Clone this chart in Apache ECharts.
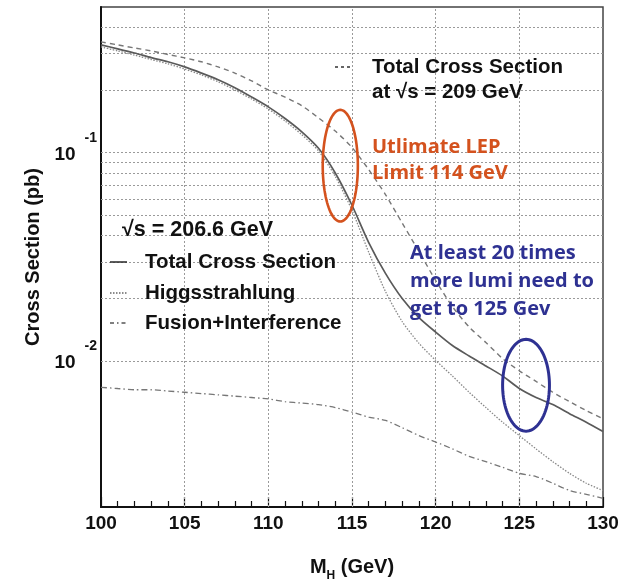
<!DOCTYPE html>
<html>
<head>
<meta charset="utf-8">
<script src="https://cdn.jsdelivr.net/npm/echarts@6/dist/echarts.min.js"></script>
<style>
  html, body { margin: 0; padding: 0; background: #fff; }
  #chart { width: 622px; height: 581px; }
</style>
</head>
<body>
<div id="chart"></div>
<script>
// Higgs mass in GeV
const massGeV = [100, 101, 102, 103, 104, 105, 106, 107, 108, 109, 110,
                 111, 112, 113, 114, 115, 116, 117, 118, 119, 120,
                 121, 122, 123, 124, 125, 126, 127, 128, 129, 130];

// Cross sections in pb at sqrt(s) = 206.6 GeV
const totalXsec = [0.329, 0.315, 0.301, 0.286, 0.273, 0.258, 0.241, 0.224, 0.205, 0.185, 0.166,
                   0.146, 0.126, 0.105, 0.080, 0.056, 0.0371, 0.0264, 0.0200, 0.0162, 0.0138,
                   0.0119, 0.0106, 0.0095, 0.0085, 0.0074, 0.0067, 0.0062, 0.0056, 0.0051, 0.0046];
const higgsstrahlung = [0.322, 0.308, 0.294, 0.280, 0.267, 0.252, 0.236, 0.219, 0.200, 0.181, 0.162,
                        0.142, 0.122, 0.102, 0.077, 0.053, 0.0333, 0.0216, 0.0155, 0.0122, 0.0101,
                        0.0085, 0.0071, 0.0060, 0.0051, 0.0044, 0.0038, 0.0033, 0.0029, 0.0026, 0.0024];
const fusionInterference = [0.0075, 0.0074, 0.0073, 0.0073, 0.0072, 0.0071, 0.0070, 0.0069, 0.0068, 0.0067, 0.0066,
                            0.0064, 0.0063, 0.0062, 0.0060, 0.0057, 0.0054, 0.0052, 0.0048, 0.0044, 0.0041,
                            0.0038, 0.0035, 0.0033, 0.0031, 0.0029, 0.0028, 0.0026, 0.0024, 0.0023, 0.0022];
// Total cross section at sqrt(s) = 209 GeV
const total209 = [0.340, 0.329, 0.318, 0.308, 0.296, 0.285, 0.273, 0.258, 0.241, 0.221, 0.200,
                  0.185, 0.168, 0.147, 0.127, 0.106, 0.083, 0.063, 0.046, 0.0336, 0.0244,
                  0.0183, 0.0146, 0.0123, 0.0103, 0.0090, 0.0080, 0.0071, 0.0064, 0.0058, 0.0053];

// Axis ranges and grid levels
const massRange = [100, 130];
const xsecRange = [0.002, 0.5];
const massGrid = [105, 110, 115, 120, 125];
const xsecGrid = [0.003, 0.004, 0.005, 0.006, 0.007, 0.008, 0.009,
                  0.01, 0.02, 0.03, 0.04, 0.05, 0.06, 0.07, 0.08, 0.09,
                  0.1, 0.2, 0.3, 0.4];

// Highlight rings: [mass min, mass max, xsec min, xsec max]
const lepLimitRing = [113.25, 115.35, 0.0468, 0.1605];
const target125Ring = [124.0, 126.8, 0.00462, 0.01274];

const pairs = (ys) => massGeV.map((m, i) => [m, ys[i]]);

const HELV = '"Liberation Sans", Arial, Helvetica, sans-serif';
const ANNOT = '"Open Sans", Lato, sans-serif';
const ORANGE = '#d4521e';
const BLUE = '#2e3192';

function ringSeries(name, box, color, width) {
  return {
    type: 'custom',
    name: name,
    silent: true,
    z: 10,
    data: [box],
    encode: { x: [0, 1], y: [2, 3] },
    renderItem: function (params, api) {
      const p1 = api.coord([api.value(0), api.value(3)]);
      const p2 = api.coord([api.value(1), api.value(2)]);
      const cx = (p1[0] + p2[0]) / 2, cy = (p1[1] + p2[1]) / 2;
      const rx = Math.abs(p2[0] - p1[0]) / 2, ry = Math.abs(p2[1] - p1[1]) / 2;
      const pts = [];
      for (let k = 0; k <= 96; k++) {
        const t = (k / 96) * Math.PI * 2;
        pts.push([cx + rx * Math.cos(t), cy + ry * Math.sin(t)]);
      }
      return {
        type: 'polyline',
        shape: { points: pts },
        style: { stroke: color, lineWidth: width, fill: null }
      };
    }
  };
}

function curve(name, ys, lineStyle, z) {
  return {
    name: name,
    type: 'line',
    data: pairs(ys),
    showSymbol: false,
    smooth: 0.25,
    z: z,
    lineStyle: lineStyle
  };
}

const gridStyle = { color: '#9a9a9a', width: 1, type: [2, 2] };
const textFont = 'bold 20.5px ' + HELV;

const chart = echarts.init(document.getElementById('chart'), null, { renderer: 'canvas' });

chart.setOption({
  animation: false,
  backgroundColor: '#fff',
  grid: {
    left: 101, top: 7, right: 19, bottom: 74,
    outerBoundsMode: 'none', containLabel: false,
    show: true, borderColor: '#444', borderWidth: 1.5
  },
  xAxis: {
    type: 'value',
    min: massRange[0],
    max: massRange[1],
    interval: 5,
    name: '{m|M}{h|H}{g| (GeV)}',
    nameLocation: 'middle',
    nameGap: 45,
    nameTextStyle: {
      rich: {
        m: { fontFamily: HELV, fontWeight: 'bold', fontSize: 20, color: '#111', lineHeight: 30 },
        h: { fontFamily: HELV, fontWeight: 'bold', fontSize: 12, color: '#111', lineHeight: 18, verticalAlign: 'bottom' },
        g: { fontFamily: HELV, fontWeight: 'bold', fontSize: 20, color: '#111', lineHeight: 30 }
      }
    },
    axisLine: { show: true, lineStyle: { color: '#111', width: 2 } },
    axisTick: { show: true, inside: true, length: 10, lineStyle: { color: '#111', width: 1.2 } },
    minorTick: { show: true, splitNumber: 5, length: 6, lineStyle: { color: '#111', width: 1.2 } },
    axisLabel: { margin: 7, fontFamily: HELV, fontWeight: 'bold', fontSize: 19, color: '#111' },
    splitLine: { show: false }
  },
  yAxis: {
    type: 'log',
    logBase: 10,
    min: xsecRange[0],
    max: xsecRange[1],
    name: 'Cross Section (pb)',
    nameLocation: 'middle',
    nameGap: 58,
    nameTextStyle: { fontFamily: HELV, fontWeight: 'bold', fontSize: 20, color: '#111' },
    axisLine: { show: true, lineStyle: { color: '#111', width: 2 } },
    axisTick: { show: false },
    splitLine: { show: false },
    axisLabel: {
      margin: 4,
      formatter: function (v) {
        const lg = Math.log10(v);
        const e = Math.round(lg);
        if (Math.abs(lg - e) > 1e-6) return '';
        return '{b|10}{s|' + e + '}';
      },
      rich: {
        b: { fontFamily: HELV, fontWeight: 'bold', fontSize: 19, color: '#111', lineHeight: 44, padding: [4, 0, 0, 0] },
        s: { fontFamily: HELV, fontWeight: 'bold', fontSize: 14, color: '#111', lineHeight: 16,
             verticalAlign: 'top', padding: [0, 0, 0, 9] }
      }
    }
  },
  series: [
    {
      name: 'grid',
      type: 'line',
      data: [],
      silent: true,
      z: 1,
      markLine: {
        silent: true,
        symbol: 'none',
        label: { show: false },
        lineStyle: gridStyle,
        data: xsecGrid.map(v => ({ yAxis: v })).concat(massGrid.map(v => ({ xAxis: v })))
      }
    },
    curve('Total 209', total209, { color: '#777', width: 1.4, type: [5, 4] }, 5),
    curve('Fusion+Interference', fusionInterference, { color: '#777', width: 1.3, type: [6, 3, 1.5, 3] }, 5),
    curve('Higgsstrahlung', higgsstrahlung, { color: '#888', width: 1.3, type: [1.5, 1.5] }, 5),
    curve('Total Cross Section', totalXsec, { color: '#5a5a5a', width: 1.7 }, 6),
    ringSeries('LEP limit', lepLimitRing, ORANGE, 2.6),
    ringSeries('125 GeV', target125Ring, BLUE, 3)
  ],
  graphic: [
    // legend for the 209 GeV curve
    { type: 'line', z: 20, shape: { x1: 335, y1: 67, x2: 352, y2: 67 },
      style: { stroke: '#333', lineWidth: 1.4, lineDash: [3, 3] } },
    { type: 'text', z: 20, style: { text: 'Total Cross Section', x: 372, y: 67, verticalAlign: 'middle',
      font: textFont, fill: '#111' } },
    { type: 'text', z: 20, style: { text: 'at \u221As = 209 GeV', x: 372, y: 92, verticalAlign: 'middle',
      font: textFont, fill: '#111' } },

    // legend for 206.6 GeV
    { type: 'text', z: 20, style: { text: '\u221As = 206.6 GeV', x: 122, y: 230, verticalAlign: 'middle',
      font: 'bold 21.5px ' + HELV, fill: '#111' } },
    { type: 'line', z: 20, shape: { x1: 110, y1: 262, x2: 127, y2: 262 },
      style: { stroke: '#333', lineWidth: 1.6 } },
    { type: 'text', z: 20, style: { text: 'Total Cross Section', x: 145, y: 262, verticalAlign: 'middle',
      font: textFont, fill: '#111' } },
    { type: 'line', z: 20, shape: { x1: 110, y1: 293, x2: 128, y2: 293 },
      style: { stroke: '#666', lineWidth: 1.3, lineDash: [1.5, 1.5] } },
    { type: 'text', z: 20, style: { text: 'Higgsstrahlung', x: 145, y: 293, verticalAlign: 'middle',
      font: textFont, fill: '#111' } },
    { type: 'line', z: 20, shape: { x1: 110, y1: 323, x2: 128, y2: 323 },
      style: { stroke: '#555', lineWidth: 1.3, lineDash: [4, 3, 1.5, 3] } },
    { type: 'text', z: 20, style: { text: 'Fusion+Interference', x: 145, y: 323, verticalAlign: 'middle',
      font: textFont, fill: '#111' } },

    // annotations
    { type: 'text', z: 20, style: { text: 'Utlimate LEP\nLimit 114 GeV', x: 372, y: 134, lineHeight: 26,
      font: 'bold 20px ' + ANNOT, fill: ORANGE } },
    { type: 'text', z: 20, style: { text: 'At least 20 times\nmore lumi need to\nget to 125 Gev', x: 410, y: 239,
      lineHeight: 28, font: 'bold 20px ' + ANNOT, fill: BLUE } }
  ]
});
</script>
</body>
</html>
